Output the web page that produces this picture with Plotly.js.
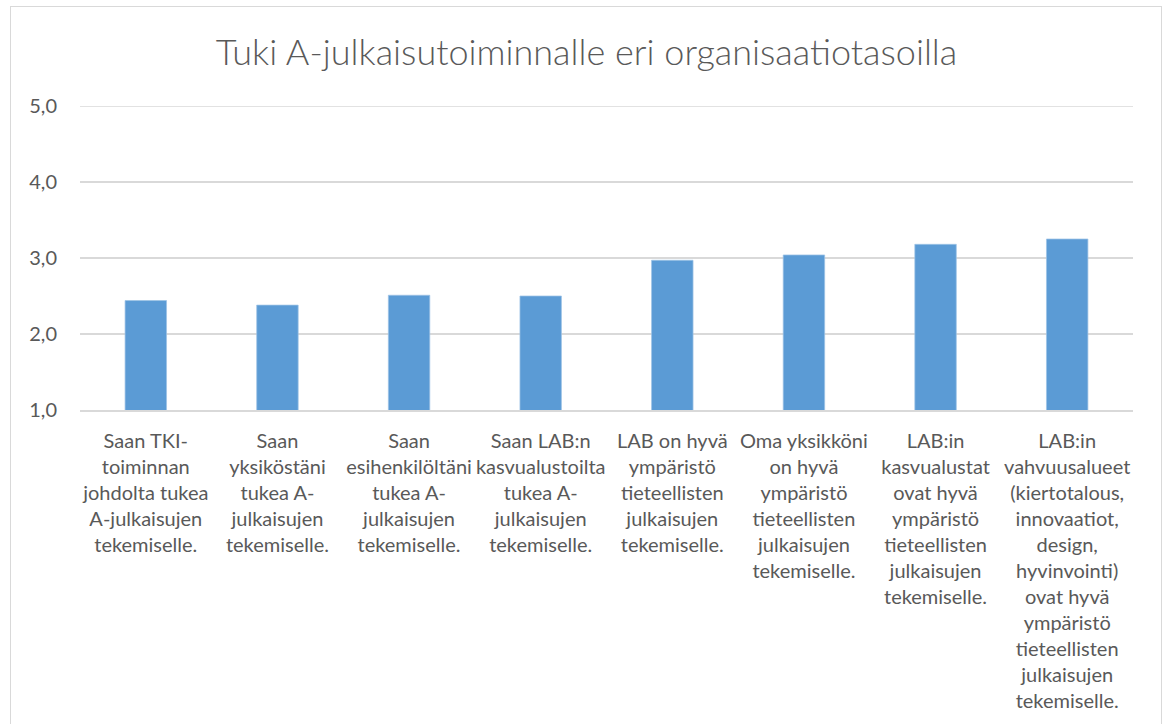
<!DOCTYPE html>
<html>
<head>
<meta charset="utf-8">
<script src="https://cdn.plot.ly/plotly-3.0.1.min.js"></script>
<style>
  html, body { margin: 0; padding: 0; background: #ffffff; overflow: hidden; }
  #wrap { position: relative; width: 1165px; height: 724px; }
  #frame { position: absolute; left: 10px; top: 6px; width: 1152px; height: 740px;
           border: 1.5px solid #d9d9d9; box-sizing: border-box; pointer-events: none; }
  #chart { position: absolute; left: 0; top: 0; width: 1165px; height: 724px; }
</style>
</head>
<body>
<div id="wrap">
  <div id="chart"></div>
  <div id="frame"></div>
</div>
<script>
const categories = [
  "Saan TKI-<br>toiminnan<br>johdolta tukea<br>A-julkaisujen<br>tekemiselle.",
  "Saan<br>yksiköstäni<br>tukea A-<br>julkaisujen<br>tekemiselle.",
  "Saan<br>esihenkilöltäni<br>tukea A-<br>julkaisujen<br>tekemiselle.",
  "Saan LAB:n<br>kasvualustoilta<br>tukea A-<br>julkaisujen<br>tekemiselle.",
  "LAB on hyvä<br>ympäristö<br>tieteellisten<br>julkaisujen<br>tekemiselle.",
  "Oma yksikköni<br>on hyvä<br>ympäristö<br>tieteellisten<br>julkaisujen<br>tekemiselle.",
  "LAB:in<br>kasvualustat<br>ovat hyvä<br>ympäristö<br>tieteellisten<br>julkaisujen<br>tekemiselle.",
  "LAB:in<br>vahvuusalueet<br>(kiertotalous,<br>innovaatiot,<br>design,<br>hyvinvointi)<br>ovat hyvä<br>ympäristö<br>tieteellisten<br>julkaisujen<br>tekemiselle."
];
const values = [2.44, 2.38, 2.51, 2.50, 2.97, 3.04, 3.18, 3.25];
const yTickVals = [1, 2, 3, 4, 5];
const yMax = 5;
const chartTitle = "Tuki A-julkaisutoiminnalle eri organisaatiotasoilla";

const trace = {
  type: "bar",
  x: categories,
  y: values,
  base: 0,
  marker: { color: "#5B9BD5", line: { color: "#9DC3E6", width: 0.75 } },
  hoverinfo: "skip"
};

const layout = {
  width: 1165,
  height: 724,
  margin: { l: 80, r: 32, t: 106, b: 314 },
  paper_bgcolor: "rgba(0,0,0,0)",
  plot_bgcolor: "rgba(0,0,0,0)",
  separators: ",.",
  showlegend: false,
  bargap: 0.685,
  font: { family: "Lato, 'Open Sans', sans-serif", color: "#595959", size: 20 },
  title: {
    text: chartTitle,
    font: { family: "Lato, 'Open Sans', sans-serif", size: 36, color: "#595959", weight: 300 },
    x: 0.481, xref: "paper", xanchor: "center",
    y: 0.928, yref: "container", yanchor: "middle"
  },
  xaxis: {
    type: "category",
    showgrid: false,
    showline: true,
    linecolor: "#d9d9d9",
    linewidth: 1.5,
    ticks: "",
    tickangle: 0,
    ticklabelstandoff: 12,
    tickfont: { size: 20, color: "#595959" },
    automargin: false
  },
  yaxis: {
    range: [1, yMax],
    tickvals: yTickVals,
    tickformat: ".1f",
    showgrid: true,
    gridcolor: "#d9d9d9",
    gridwidth: 1.5,
    zeroline: false,
    showline: false,
    ticks: "",
    ticklabelstandoff: 22,
    tickfont: { size: 20, color: "#595959" },
    automargin: false
  },
  shapes: [{
    type: "line", xref: "paper", yref: "y",
    x0: 0, x1: 1, y0: yMax, y1: yMax,
    line: { color: "#d9d9d9", width: 1.5 },
    layer: "below"
  }]
};

Plotly.newPlot("chart", [trace], layout, { displayModeBar: false, staticPlot: true });
</script>
</body>
</html>
